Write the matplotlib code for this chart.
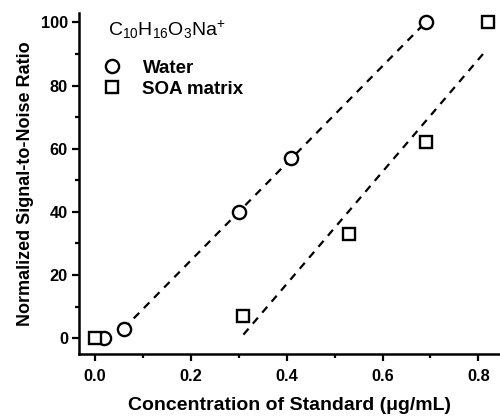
import numpy as np
import matplotlib
matplotlib.use("Agg")
import matplotlib.pyplot as plt
from matplotlib.ticker import MultipleLocator, FormatStrFormatter

plt.rcParams['font.family'] = ['Liberation Sans', 'DejaVu Sans']
plt.rcParams['mathtext.fontset'] = 'custom'
plt.rcParams['mathtext.rm'] = 'Liberation Sans'
plt.rcParams['mathtext.it'] = 'Liberation Sans'
plt.rcParams['mathtext.bf'] = 'Liberation Sans:bold'

water_x = [0.02, 0.06, 0.30, 0.41, 0.69]
water_y = [0, 3, 40, 57, 100]
soa_x = [0.0, 0.31, 0.53, 0.69, 0.82]
soa_y = [0, 7, 33, 62, 100]
water_fit_range = [0.06, 0.69]
soa_fit_range = [0.31, 0.81]

fig = plt.figure(figsize=(5.0, 4.17), dpi=100)
ax = fig.add_axes([0.158, 0.151, 0.842, 0.818])

# linear fits (excluding blanks)
pw = np.polyfit(water_x[1:], water_y[1:], 1)
ps = np.polyfit(soa_x[1:], soa_y[1:], 1)
xw = np.array(water_fit_range)
xs = np.array(soa_fit_range)
ax.plot(xw, np.polyval(pw, xw), color='black', lw=1.6, ls=(0, (3.5, 3)), zorder=2)
ax.plot(xs, np.polyval(ps, xs), color='black', lw=1.6, ls=(0, (3.5, 3)), zorder=2)

ax.plot(water_x, water_y, 'o', ms=9.5, mfc='white', mec='black', mew=1.7,
        ls='none', label='Water', zorder=3)
ax.plot(soa_x, soa_y, 's', ms=8.5, mfc='white', mec='black', mew=1.7,
        ls='none', label='SOA matrix', zorder=3)

ax.set_xlim(-0.033, 0.845)
ax.set_ylim(-5, 103)
ax.xaxis.set_major_locator(MultipleLocator(0.2))
ax.xaxis.set_minor_locator(MultipleLocator(0.1))
ax.yaxis.set_major_locator(MultipleLocator(20))
ax.yaxis.set_minor_locator(MultipleLocator(10))
ax.xaxis.set_major_formatter(FormatStrFormatter('%.1f'))
ax.yaxis.set_major_formatter(FormatStrFormatter('%d'))

for s in ['top', 'right']:
    ax.spines[s].set_visible(False)
for s in ['left', 'bottom']:
    ax.spines[s].set_linewidth(1.8)
ax.tick_params(which='major', length=5, width=1.6, direction='out',
               labelsize=11.8)
ax.tick_params(axis='x', which='major', pad=6)
ax.tick_params(axis='y', which='major', pad=3)
ax.tick_params(which='minor', length=3, width=1.6, direction='out')
for lab in ax.get_xticklabels() + ax.get_yticklabels():
    lab.set_fontweight('bold')

ax.set_xlabel('Concentration of Standard (μg/mL)', fontsize=14,
              fontweight='bold', labelpad=9)
ax.set_ylabel('Normalized Signal-to-Noise Ratio', fontsize=13,
              fontweight='bold', labelpad=5)

ax.text(0.07, 0.95, r'C$_{10}$H$_{16}$O$_{3}$Na$^{+}$', transform=ax.transAxes,
        fontsize=14, va='center', ha='left')
leg = ax.legend(loc='upper left', bbox_to_anchor=(0.035, 0.885), frameon=False,
                prop={'weight': 'bold', 'size': 13.5}, handletextpad=1.0,
                labelspacing=0.2, borderaxespad=0, handlelength=1.2)

fig.savefig('out.png', dpi=100)
